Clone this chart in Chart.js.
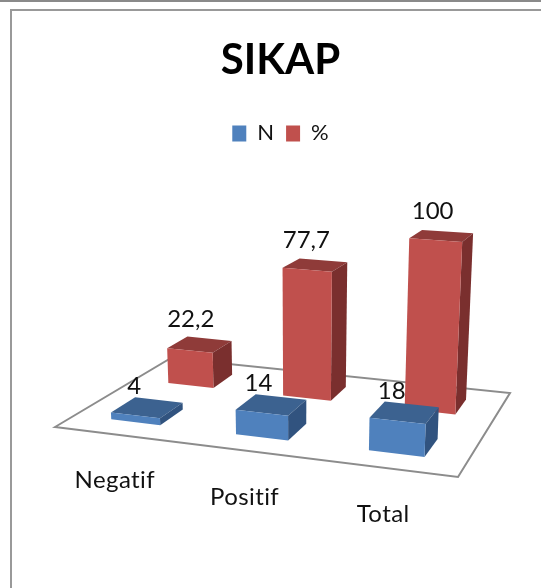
<!DOCTYPE html>
<html>
<head>
<meta charset="utf-8">
<title>SIKAP</title>
<script src="https://cdn.jsdelivr.net/npm/chart.js@4/dist/chart.umd.min.js"></script>
<style>
  html, body { margin: 0; padding: 0; background: #fff; overflow: hidden; }
  #page { position: relative; width: 541px; height: 588px; }
  #topline { position: absolute; left: 0; top: 0; width: 541px; height: 2px; background: #8a8a8a; }
  #frame { position: absolute; left: 10px; top: 9px; width: 540px; height: 600px; border: 2px solid #999; }
  canvas { position: absolute; left: 0; top: 0; filter: blur(0.4px); }
</style>
</head>
<body>
<div id="page">
  <div id="topline"></div>
  <div id="frame"></div>
  <canvas id="chart" width="541" height="588"></canvas>
</div>
<script>
const categories = ['Negatif', 'Positif', 'Total'];
const nValues = [4, 14, 18];
const pctValues = [22.2, 77.7, 100];

const FONT = 'Lato, "Open Sans", sans-serif';
const TEXT = '#111';

// floor of the 3d box on screen: front-left, front-right, back-right, back-left
const floor = [[55, 427], [458, 477], [510, 393], [171, 358]];
const vanish = [300, 4300]; // where the verticals meet
const heightK = -0.0445;
const rows = [0.25, 0.75]; // depth of N and % rows
const rowDepth = 0.2;
const labelShift = [[-13, -21], [-9, -25]];

const faces = [
    { front: '#4F81BD', top: '#3C6290', side: '#31537F' },
    { front: '#C0504D', top: '#8F3B39', side: '#7A2F2E' }
];

function makeCamera() {
    const [[x0, y0], [x1, y1], [x2, y2], [x3, y3]] = floor;
    const dx1 = x1 - x2, dx2 = x3 - x2, sx = x0 - x1 + x2 - x3;
    const dy1 = y1 - y2, dy2 = y3 - y2, sy = y0 - y1 + y2 - y3;
    const den = dx1 * dy2 - dx2 * dy1;
    const g = (sx * dy2 - dx2 * sy) / den;
    const h = (dx1 * sy - sx * dy1) / den;
    const a = x1 - x0 + g * x1, b = x3 - x0 + h * x3;
    const d = y1 - y0 + g * y1, e = y3 - y0 + h * y3;
    return (u, v, w) => {
        const z = g * u + h * v + 1 + w * heightK;
        return [
            (a * u + b * v + x0 + w * heightK * vanish[0]) / z,
            (d * u + e * v + y0 + w * heightK * vanish[1]) / z
        ];
    };
}
const project = makeCamera();

function poly(ctx, pts, fill) {
    ctx.beginPath();
    pts.forEach((p, i) => i ? ctx.lineTo(p[0], p[1]) : ctx.moveTo(p[0], p[1]));
    ctx.closePath();
    ctx.fillStyle = fill;
    ctx.fill();
}

// turns a bar element into box coordinates using the chart area
function barBox(chart, bar, datasetIndex) {
    const area = chart.chartArea;
    const halfW = bar.width / 2;
    return {
        u0: (bar.x - halfW - area.left) / area.width,
        u1: (bar.x + halfW - area.left) / area.width,
        v0: rows[datasetIndex] - rowDepth / 2,
        v1: rows[datasetIndex] + rowDepth / 2,
        w: (area.bottom - bar.y) / area.height
    };
}

const box3d = {
    id: 'box3d',
    beforeDatasetsDraw(chart) {
        const ctx = chart.ctx;
        ctx.save();
        ctx.beginPath();
        floor.forEach((p, i) => i ? ctx.lineTo(p[0], p[1]) : ctx.moveTo(p[0], p[1]));
        ctx.closePath();
        ctx.fillStyle = '#fff';
        ctx.fill();
        ctx.strokeStyle = '#8c8c8c';
        ctx.lineWidth = 2;
        ctx.stroke();
        ctx.restore();
    },
    beforeDatasetDraw(chart, args) {
        const ctx = chart.ctx;
        const col = faces[args.index];
        args.meta.data.forEach(bar => {
            const b = barBox(chart, bar, args.index);
            const P = (u, v, w) => project(u, v, w);
            poly(ctx, [P(b.u0, b.v1, b.w), P(b.u1, b.v1, b.w), P(b.u1, b.v0, b.w), P(b.u0, b.v0, b.w)], col.top);
            poly(ctx, [P(b.u1, b.v0, 0), P(b.u1, b.v1, 0), P(b.u1, b.v1, b.w), P(b.u1, b.v0, b.w)], col.side);
            poly(ctx, [P(b.u0, b.v0, 0), P(b.u1, b.v0, 0), P(b.u1, b.v0, b.w), P(b.u0, b.v0, b.w)], col.front);
        });
        return false; // no flat bar
    },
    afterDatasetsDraw(chart) {
        const ctx = chart.ctx;
        ctx.save();
        ctx.textAlign = 'center';
        ctx.textBaseline = 'middle';
        ctx.fillStyle = TEXT;
        ctx.font = '24px ' + FONT;
        chart.data.datasets.forEach((ds, di) => {
            chart.getDatasetMeta(di).data.forEach((bar, i) => {
                const b = barBox(chart, bar, di);
                const p = project((b.u0 + b.u1) / 2, (b.v0 + b.v1) / 2, b.w);
                ctx.fillText(String(ds.data[i]).replace('.', ','), p[0] + labelShift[di][0], p[1] + labelShift[di][1]);
            });
        });
        // category labels under the front edge
        const xs = chart.scales.x;
        const area = chart.chartArea;
        ctx.font = '24px ' + FONT;
        ctx.letterSpacing = '0.4px';
        categories.forEach((c, i) => {
            const p = project((xs.getPixelForValue(i) - area.left) / area.width, 0, 0);
            ctx.fillText(c, p[0] - 2, p[1] + 46);
        });
        ctx.restore();
    }
};

new Chart(document.getElementById('chart'), {
    type: 'bar',
    data: {
        labels: categories,
        datasets: [
            { label: 'N', data: nValues, backgroundColor: faces[0].front },
            { label: '%', data: pctValues, backgroundColor: faces[1].front }
        ]
    },
    options: {
        responsive: false,
        animation: false,
        layout: { padding: { top: 35, left: 20 } },
        datasets: { bar: { grouped: false, barPercentage: 0.4, categoryPercentage: 1 } },
        scales: {
            x: { display: false },
            y: { display: false, min: 0, max: 100 }
        },
        plugins: {
            tooltip: { enabled: false },
            title: {
                display: true,
                text: 'SIKAP',
                color: '#000',
                font: { family: FONT, size: 42, weight: 'bold' },
                padding: { top: 0, bottom: 25 }
            },
            legend: {
                display: true,
                position: 'top',
                labels: { color: TEXT, boxWidth: 14, boxHeight: 16, padding: 12, font: { family: FONT, size: 22 } }
            }
        }
    },
    plugins: [box3d]
});
</script>
</body>
</html>
